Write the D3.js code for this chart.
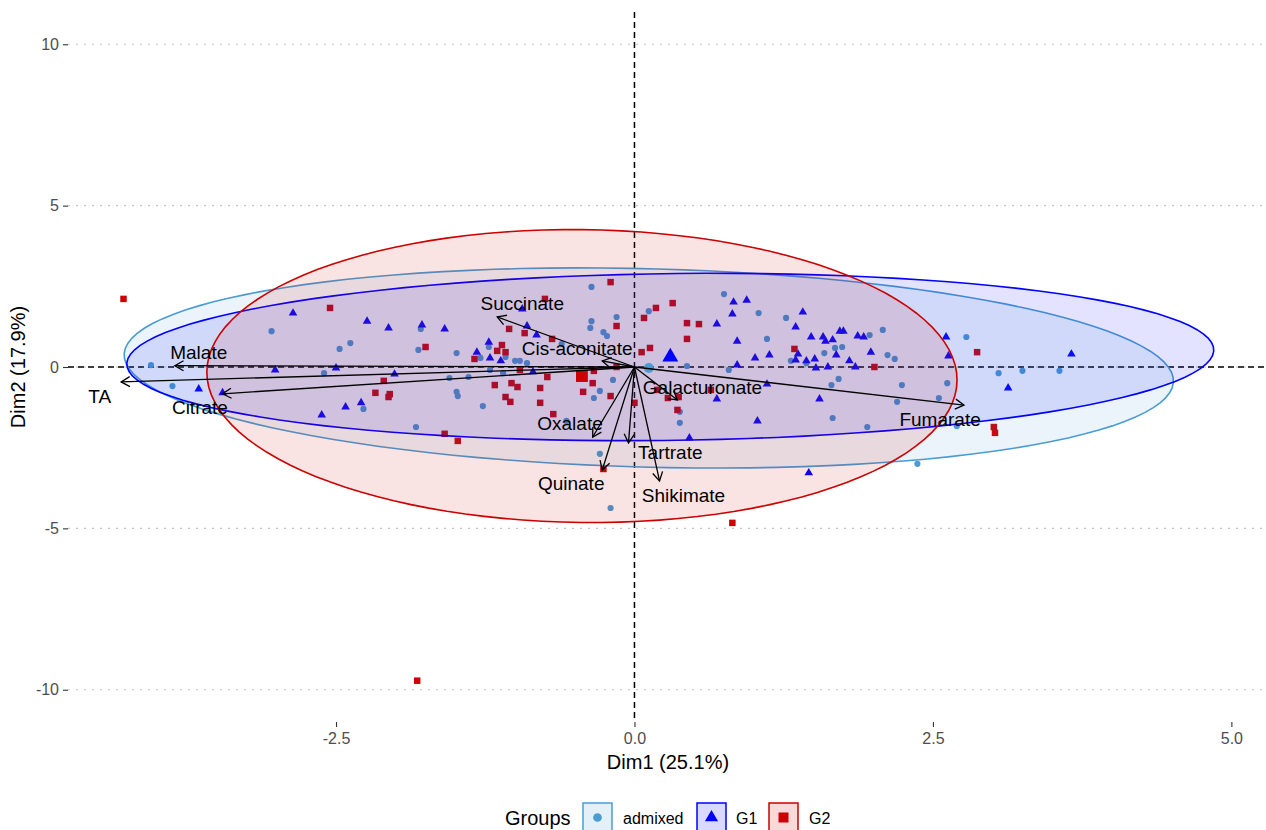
<!DOCTYPE html>
<html>
<head>
<meta charset="utf-8">
<script src="https://cdn.jsdelivr.net/npm/d3@7"></script>
<style>
  body { margin: 0; background: #fff; }
  svg { font-family: "Liberation Sans", Arial, sans-serif; }
</style>
</head>
<body>
<div class="chart"></div>
<script>
// individuals (Dim1, Dim2), by group
var admixedDim1 = [-4.05,-3.87,-3.04,-2.38,-2.47,-1.81,-1.79,-2.60,-2.27,-1.83,
  -0.36,-0.15,-0.36,-0.37,-0.26,-0.23,-0.61,-1.22,-1.29,-1.08,
  -1.00,-0.96,-0.90,-1.49,-1.55,-1.39,-1.21,-1.10,-0.18,-0.29,
  -0.34,-1.49,-1.48,-1.27,-0.57,-0.29,-0.20,0.12,0.44,0.75,
  1.04,1.27,1.11,1.31,1.59,1.68,0.79,1.66,0.38,0.38,
  1.74,1.44,1.71,1.65,1.95,1.97,2.08,2.12,2.18,2.78,
  3.05,3.25,3.56,2.24,2.62,2.55,2.20,2.70,2.37];
var admixedDim2 = [0.06,-0.59,1.11,0.74,0.56,0.53,1.18,-0.19,-1.30,-1.86,
  2.48,1.55,1.42,1.21,1.08,0.96,0.71,0.62,0.28,0.31,
  0.19,0.19,0.12,0.43,-0.34,-0.31,-0.09,-0.19,-0.40,-0.74,
  -0.96,-0.77,-0.90,-1.21,-1.67,-2.69,-4.37,1.73,0.03,2.26,
  1.67,1.52,0.87,0.19,0.43,0.59,-0.09,-1.58,-1.39,-1.73,
  0.62,0.12,-0.37,-0.56,-1.86,0.99,1.15,0.37,0.25,0.93,
  -0.19,-0.12,-0.12,-0.56,-0.50,-0.96,-1.08,-1.83,-3.00];

var g1Dim1 = [-2.86,-2.24,-2.06,-1.78,-3.01,-2.50,-2.01,-3.65,-3.45,-2.62,
  -2.42,-2.29,-0.94,-0.90,-0.82,-1.22,-1.32,-1.21,-1.12,-1.59,
  -0.85,0.83,0.94,0.82,0.69,1.41,1.35,0.86,1.13,1.01,
  1.37,1.35,1.44,1.51,1.48,1.58,1.60,1.66,1.72,1.75,
  1.87,1.92,1.69,1.80,1.85,1.62,1.52,0.86,1.11,0.69,
  1.55,1.03,0.46,1.46,1.98,2.61,2.63,3.66,3.13];
var g1Dim2 = [1.67,1.42,1.21,1.30,-0.09,-0.03,-0.22,-0.68,-0.80,-1.49,
  -1.24,-1.11,1.80,1.27,0.99,0.77,0.46,0.28,0.19,1.18,
  -0.15,2.01,2.07,1.64,1.33,1.70,1.24,0.80,0.37,0.28,
  0.40,0.22,0.19,0.25,0.93,0.93,0.80,0.84,1.11,1.11,
  0.96,0.93,0.37,0.19,0.00,0.00,-0.03,0.06,-0.53,-0.99,
  -0.99,-1.67,-2.20,-3.28,0.46,0.93,0.34,0.40,-0.65];

var g2Dim1 = [-4.28,-2.55,-1.75,-2.10,-2.17,-2.05,-2.06,-0.20,-0.75,-0.15,
  -1.05,-0.92,-0.69,-1.11,-1.15,-1.08,-1.34,-0.96,-0.73,-0.34,
  -0.15,-0.35,-1.17,-1.03,-0.98,-0.79,-0.43,-0.20,-1.08,-1.04,
  -0.79,-0.68,0.00,-1.59,-1.48,-0.26,0.82,-1.82,0.18,0.32,
  0.08,0.44,0.54,0.44,0.13,0.06,1.34,0.28,0.37,0.36,
  0.19,0.64,2.01,2.87,3.01,3.02];
var g2Dim2 = [2.11,1.83,0.62,-0.43,-0.80,-0.84,-0.93,2.63,2.11,1.27,
  1.18,1.05,0.87,0.68,0.50,0.46,0.25,-0.09,-0.31,-0.12,
  0.00,-0.50,-0.56,-0.50,-0.62,-0.65,-0.77,-0.90,-0.93,-1.08,
  -1.11,-1.46,-1.11,-2.07,-2.29,-3.16,-4.83,-9.72,1.83,1.98,
  1.52,1.36,1.33,0.87,0.59,0.46,0.56,-0.96,-0.93,-1.33,
  -0.71,-0.71,0.00,0.46,-1.86,-2.04];

// groups, their means and concentration ellipses (semi axes + rotation in degrees)
var groupNames = ["admixed", "G1", "G2"];
var groupMeanDim1 = [0.12, 0.30, -0.44];
var groupMeanDim2 = [-0.03, 0.31, -0.28];
var ellipseSemiA = [4.43, 4.56, 3.14];
var ellipseSemiB = [3.05, 2.58, 4.54];
var ellipseAngle = [-10, 4, 2];

// variables (arrows) and where their labels sit
var varNames = ["TA", "Malate", "Citrate", "Succinate", "Cis-aconitate", "Galacturonate",
  "Oxalate", "Tartrate", "Quinate", "Shikimate", "Fumarate"];
var varDim1 = [-4.30, -3.85, -3.45, -1.15, -0.27, 0.36, -0.35, -0.05, -0.27, 0.21, 2.76];
var varDim2 = [-0.46, 0.04, -0.83, 1.55, 0.19, -1.02, -2.17, -2.35, -3.19, -3.53, -1.18];
var labelDim1 = [-4.48, -3.65, -3.64, -0.94, -0.48, 0.57, -0.54, 0.30, -0.53, 0.41, 2.56];
var labelDim2 = [-0.90, 0.46, -1.24, 1.98, 0.56, -0.62, -1.76, -2.66, -3.62, -3.99, -1.64];

var xTicks = [-2.5, 0, 2.5, 5.0];
var yTicks = [-10, -5, 0, 5, 10];

var colors = ["#4B9CD3", "#0000FF", "#CC0000"];
var shapes = [d3.symbolCircle, d3.symbolTriangle, d3.symbolSquare];
var pointSize = [30, 32, 42];
var meanSize = [80, 110, 140];

var svgWidth = 1266, svgHeight = 830;
var panel = { left: 68, right: 1266, top: 12, bottom: 722 };

var svg = d3.select(".chart").append("svg")
  .attr("width", svgWidth)
  .attr("height", svgHeight);

var xScale = d3.scaleLinear().domain([-4.745, 5.29]).range([panel.left, panel.right]);
var yScale = d3.scaleLinear().domain([-11, 11]).range([panel.bottom, panel.top]);

// horizontal dotted grid
svg.append("g").selectAll("line")
  .data(yTicks)
  .enter().append("line")
  .attr("x1", panel.left).attr("x2", panel.right)
  .attr("y1", d => yScale(d)).attr("y2", d => yScale(d))
  .attr("stroke", "#C4C4C4")
  .attr("stroke-width", 1.2)
  .attr("stroke-dasharray", "2,6");

// axes
var fmt = d => String(d).replace("\u2212", "-");
var yAxis = d3.axisLeft(yScale).tickValues(yTicks).tickSize(5).tickPadding(4).tickFormat(fmt);
var xAxis = d3.axisBottom(xScale).tickValues(xTicks).tickSize(5).tickPadding(6)
  .tickFormat(d => d3.format(".1f")(d).replace("\u2212", "-"));

var gy = svg.append("g").attr("transform", `translate(${panel.left}, 0)`).call(yAxis);
var gx = svg.append("g").attr("transform", `translate(0, ${panel.bottom})`).call(xAxis);
[gx, gy].forEach(function(g) {
  g.select(".domain").remove();
  g.selectAll(".tick line").attr("stroke", "#333").attr("stroke-width", 1.1);
  g.selectAll(".tick text").attr("fill", "#4D4D4D").attr("font-size", "16px")
    .attr("font-family", "Liberation Sans, Arial, sans-serif");
});

// reference lines through the origin
svg.append("line")
  .attr("x1", panel.left).attr("x2", panel.right)
  .attr("y1", yScale(0)).attr("y2", yScale(0))
  .attr("stroke", "#000").attr("stroke-width", 1.5).attr("stroke-dasharray", "6,4");
svg.append("line")
  .attr("x1", xScale(0)).attr("x2", xScale(0))
  .attr("y1", panel.top).attr("y2", panel.bottom)
  .attr("stroke", "#000").attr("stroke-width", 1.5).attr("stroke-dasharray", "6,4");

// individual points
var groupDim1 = [admixedDim1, g1Dim1, g2Dim1];
var groupDim2 = [admixedDim2, g1Dim2, g2Dim2];
var pointsG = svg.append("g");
groupNames.forEach(function(name, gi) {
  pointsG.append("g").selectAll("path")
    .data(groupDim1[gi])
    .enter().append("path")
    .attr("d", d3.symbol().type(shapes[gi]).size(pointSize[gi]))
    .attr("transform", (d, i) => `translate(${xScale(d)}, ${yScale(groupDim2[gi][i])})`)
    .attr("fill", colors[gi]);
});

// concentration ellipses
var ellipseLine = d3.line()
  .x(d => xScale(d[0]))
  .y(d => yScale(d[1]))
  .curve(d3.curveLinearClosed);

groupNames.forEach(function(name, gi) {
  var th = ellipseAngle[gi] * Math.PI / 180;
  var pts = d3.range(0, 120).map(function(k) {
    var t = k / 120 * 2 * Math.PI;
    var ex = ellipseSemiA[gi] * Math.cos(t), ey = ellipseSemiB[gi] * Math.sin(t);
    return [groupMeanDim1[gi] + ex * Math.cos(th) - ey * Math.sin(th),
            groupMeanDim2[gi] + ex * Math.sin(th) + ey * Math.cos(th)];
  });
  svg.append("path")
    .attr("d", ellipseLine(pts))
    .attr("fill", colors[gi])
    .attr("fill-opacity", 0.11)
    .attr("stroke", colors[gi])
    .attr("stroke-width", 1.6);
});

// group means
groupNames.forEach(function(name, gi) {
  svg.append("path")
    .attr("d", d3.symbol().type(shapes[gi]).size(meanSize[gi]))
    .attr("transform", `translate(${xScale(groupMeanDim1[gi])}, ${yScale(groupMeanDim2[gi])})`)
    .attr("fill", colors[gi]);
});

// variable arrows
var arrowG = svg.append("g").attr("stroke", "#000").attr("stroke-width", 1.3).attr("fill", "none");
var ox = xScale(0), oy = yScale(0);
varNames.forEach(function(v, i) {
  var tx = xScale(varDim1[i]), ty = yScale(varDim2[i]);
  arrowG.append("line").attr("x1", ox).attr("y1", oy).attr("x2", tx).attr("y2", ty);
  var ang = Math.atan2(ty - oy, tx - ox), len = 10, spread = Math.PI / 6;
  var head = [
    [tx - len * Math.cos(ang - spread), ty - len * Math.sin(ang - spread)],
    [tx, ty],
    [tx - len * Math.cos(ang + spread), ty - len * Math.sin(ang + spread)]
  ];
  arrowG.append("path").attr("d", d3.line()(head));
});

svg.append("g").selectAll("text")
  .data(varNames)
  .enter().append("text")
  .attr("x", (d, i) => xScale(labelDim1[i]))
  .attr("y", (d, i) => yScale(labelDim2[i]))
  .attr("text-anchor", "middle")
  .attr("dominant-baseline", "central")
  .attr("font-size", "19px")
  .attr("fill", "#000")
  .text(d => d);

// axis titles
svg.append("text")
  .attr("x", 668).attr("y", 769)
  .attr("text-anchor", "middle")
  .attr("font-size", "20px")
  .text("Dim1 (25.1%)");
svg.append("text")
  .attr("transform", "translate(25, 367) rotate(-90)")
  .attr("text-anchor", "middle")
  .attr("font-size", "20px")
  .text("Dim2 (17.9%)");

// legend
var legend = svg.append("g");
legend.append("text").attr("x", 505).attr("y", 825).attr("font-size", "20px").text("Groups");
var keyX = [583, 697, 769];
var keyTextX = [623, 736, 809];
groupNames.forEach(function(name, gi) {
  legend.append("rect")
    .attr("x", keyX[gi]).attr("y", 803)
    .attr("width", 29).attr("height", 29)
    .attr("fill", colors[gi]).attr("fill-opacity", 0.15)
    .attr("stroke", colors[gi]).attr("stroke-width", 1.5);
  legend.append("path")
    .attr("d", d3.symbol().type(shapes[gi]).size([60, 75, 100][gi]))
    .attr("transform", `translate(${keyX[gi] + 14.5}, 817.5)`)
    .attr("fill", colors[gi]);
  legend.append("text")
    .attr("x", keyTextX[gi]).attr("y", 824)
    .attr("font-size", "16px")
    .text(name);
});
</script>
</body>
</html>
